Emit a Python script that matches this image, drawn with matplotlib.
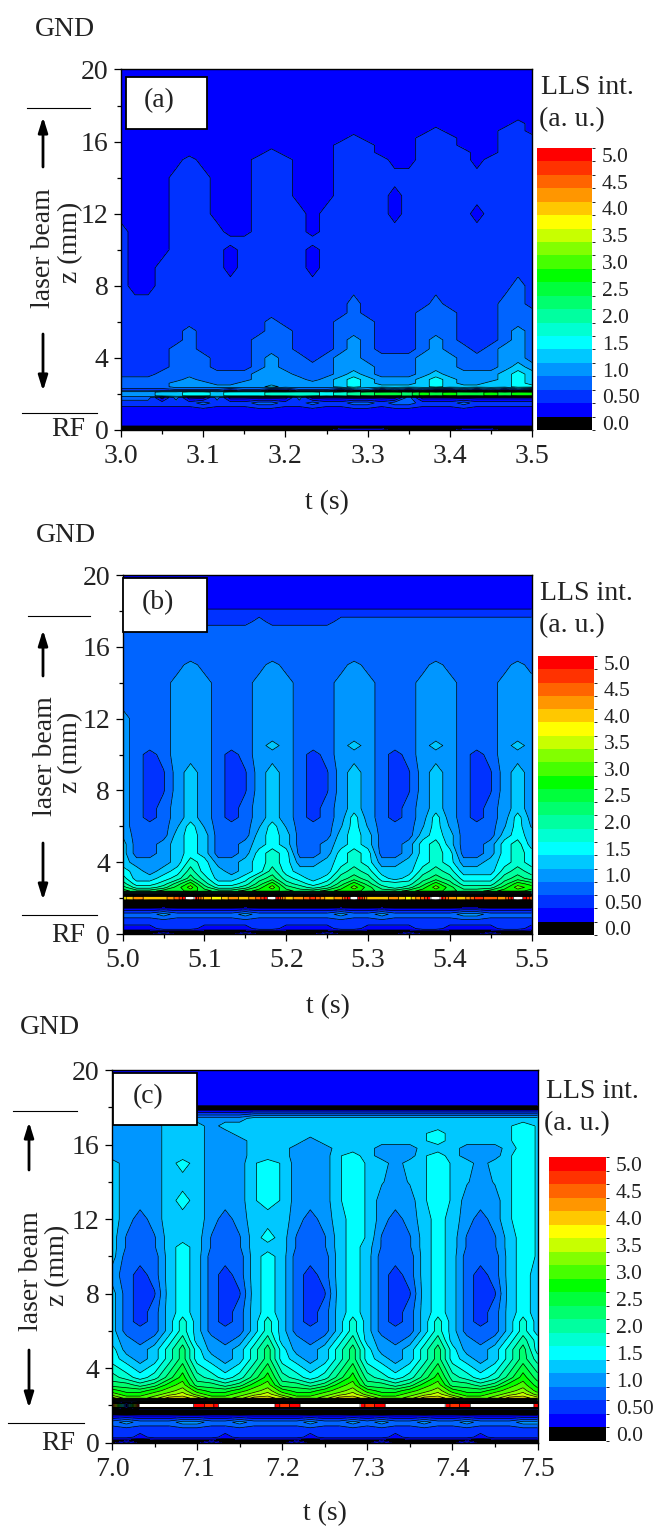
import numpy as np
import matplotlib
matplotlib.use('Agg')
import matplotlib.pyplot as plt
from matplotlib.cm import ScalarMappable
from matplotlib.colors import BoundaryNorm, ListedColormap
from matplotlib.patches import Rectangle

plt.rcParams['font.family'] = ['Liberation Serif', 'DejaVu Serif']

W, H = 657, 1528

# time offset inside each 0.5 s window, s
t_offset = [0, .017, .033, .05, .067, .083, .1, .117, .133, .15, .167, .183, .2, .217, .233, .25,
            .267, .283, .3, .317, .333, .35, .367, .383, .4, .417, .433, .45, .467, .483, .5]
t_start = [3.0, 5.0, 7.0]

z_mm = [20, 19, 18.3, 17.9, 17.4, 17, 16.6, 16.2, 15.8, 15.4, 15, 14, 13, 12, 11, 10.5, 10, 9, 8, 7,
        6.5, 6, 5.5, 5, 4.5, 4, 3.5, 3.1, 2.8, 2.6, 2.4, 2.2, 2.1, 2, 1.9, 1.8, 1.5, 1.1, .7, .3, .15, 0]

# LLS intensity, units of 0.25 a.u., rows follow z_mm
int_a = [
    [1,1,1,1,1,1, 1,1,1,1,1,1, 1,1,1,1,1,1, 1,1,1,1,1,1, 1,1,1,1,1,1, 1],
    [1,1,1,1,1,1, 1,1,1,1,1,1, 1,1,1,1,1,1, 1,1,1,1,1,1, 1,1,1,1,1,1, 1],
    [1,1,1,1,1,1, 1,1,1,1,1,1, 1,1,1,1,1,1, 1,1,1,1,1,1, 1,1,1,1,1,1, 1],
    [1,1,1,1,1,1, 1,1,1,1,1,1, 1,1,1,1,1,1, 1,1,1,1,1,1, 1,1,1,1,1,1, 1],
    [1,1,1,1,1,1, 1,1,1,1,1,1, 1,1,1,1,1,1, 1,1,1,1,1,1, 1,1,1,1,1,1, 1],
    [1,1,1,1,1,1, 1,1,1,1,1,1, 1,1,1,1,1,1, 1,1,1,1,1,1, 1,1,1,1,1,2, 1],
    [1,1,1,1,1,1, 1,1,1,1,1,1, 1,1,1,1,1,1, 1,1,1,1,1,2, 1,1,1,1,2,2, 1],
    [1,1,1,1,1,1, 1,1,1,1,1,1, 1,1,1,1,1,2, 1,1,1,1,2,2, 2,1,1,1,2,2, 2],
    [1,1,1,1,1,1, 1,1,1,1,1,1, 1,1,1,1,2,2, 2,1,1,1,2,2, 2,1,1,1,2,2, 2],
    [1,1,1,1,1,1, 1,1,1,1,1,2, 1,1,1,1,2,2, 2,1,1,1,2,2, 2,2,1,1,2,2, 2],
    [1,1,1,1,1,2, 1,1,1,1,2,2, 2,1,1,1,2,2, 2,2,1,1,2,2, 2,2,1,2,2,2, 2],
    [1,1,1,1,2,2, 2,1,1,1,2,2, 2,1,1,1,2,2, 2,2,2,2,2,2, 2,2,2,2,2,2, 2],
    [1,1,1,1,2,2, 2,1,1,1,2,2, 2,1,1,1,2,2, 2,2,1,2,2,2, 2,2,2,2,2,2, 2],
    [1,1,1,1,2,2, 2,1,1,1,2,2, 2,2,1,2,2,2, 2,2,1,2,2,2, 2,2,1,2,2,2, 2],
    [2,1,1,1,2,2, 2,2,1,1,2,2, 2,2,1,2,2,2, 2,2,2,2,2,2, 2,2,2,2,2,2, 2],
    [2,1,1,1,2,2, 2,2,2,2,2,2, 2,2,2,2,2,2, 2,2,2,2,2,2, 2,2,2,2,2,2, 2],
    [2,1,1,1,2,2, 2,2,1,2,2,2, 2,2,1,2,2,2, 2,2,2,2,2,2, 2,2,2,2,2,2, 2],
    [2,1,1,2,2,2, 2,2,1,2,2,2, 2,2,1,2,2,2, 2,2,2,2,2,2, 2,2,2,2,2,2, 2],
    [2,1,1,2,2,2, 2,2,2,2,2,2, 2,2,2,2,2,2, 2,2,2,2,2,2, 2,2,2,2,2,3, 2],
    [2,2,2,2,2,2, 2,2,2,2,2,2, 2,2,2,2,2,3, 2,2,2,2,2,3, 2,2,2,2,3,3, 2],
    [2,2,2,2,2,2, 2,2,2,2,2,2, 2,2,2,2,2,3, 2,2,2,2,3,3, 3,2,2,2,3,3, 3],
    [2,2,2,2,2,2, 2,2,2,2,2,3, 2,2,2,2,3,3, 3,2,2,2,3,3, 3,2,2,2,3,3, 3],
    [2,2,2,2,2,3, 2,2,2,2,2,3, 3,2,2,2,3,3, 3,2,2,2,3,3, 3,2,2,2,3,4, 3],
    [2,2,2,2,2,3, 2,2,2,2,3,3, 3,2,2,2,3,4, 3,2,2,2,3,4, 3,2,2,2,3,4, 3],
    [2,2,2,2,3,3, 2,2,2,2,3,3, 3,2,2,2,3,4, 3,2,2,2,3,4, 3,3,2,3,4,4, 3],
    [2,2,2,2,3,3, 3,2,2,2,3,4, 3,3,2,3,4,4, 3,3,3,3,4,4, 4,3,3,3,4,4, 3],
    [2,2,2,2,3,3, 3,2,2,2,3,4, 3,3,3,3,4,4, 4,3,3,3,4,4, 4,3,3,3,4,5, 4],
    [2,2,2,3,3,3, 3,3,3,3,4,4, 4,3,3,3,4,5, 4,3,3,3,4,5, 4,4,4,4,5,6, 5],
    [3,3,3,3,3,4, 3,3,3,3,4,4, 4,4,3,4,5,6, 5,4,4,4,5,6, 5,4,4,4,5,6, 5],
    [3,3,3,3,4,4, 4,3,3,4,4,4, 4,4,4,4,5,6, 5,4,4,4,5,6, 5,4,4,5,5,6, 5],
    [3,3,3,3,4,4, 4,4,4,4,4,5, 4,4,4,4,5,6, 5,5,5,5,5,6, 5,5,5,5,5,6, 6],
    [2,2,2,2,2,2, 2,2,1,2,2,0, 0,2,2,2,0,2, 3,0,2,0,2,0, 0,2,0,2,0,2, 0],
    [4,4,4,5,5,6, 6,5,6,6,6,7, 7,7,7,6,7,8, 9,10,10,9,11,10, 11,10,10,11,10,11, 11],
    [4,4,4,5,5,6, 6,5,6,6,6,7, 7,7,7,6,7,8, 9,10,10,9,11,10, 11,10,10,11,10,11, 11],
    [4,4,4,5,5,6, 6,5,6,6,6,7, 7,7,7,6,7,8, 9,10,10,9,11,10, 11,10,10,11,10,11, 11],
    [3,3,3,0,3,0, 0,3,0,0,0,0, 0,3,0,0,0,0, 0,0,0,3,0,0, 0,0,0,0,0,0, 0],
    [2,2,2,2,2,2, 3,2,2,2,3,3, 2,2,3,2,2,3, 3,2,3,3,2,2, 2,3,2,2,2,2, 2],
    [1,1,1,1,1,1, 1,1,1,1,1,1, 1,1,1,1,1,1, 1,1,1,1,1,1, 1,1,1,1,1,1, 1],
    [1,1,1,1,1,1, 1,1,1,1,1,1, 1,1,1,1,1,1, 1,1,1,1,1,1, 1,1,1,1,1,1, 1],
    [1,1,1,1,1,1, 1,1,1,1,1,1, 1,1,1,1,1,1, 1,1,1,1,1,1, 1,1,1,1,1,1, 1],
    [0,0,0,0,0,0, 0,0,0,0,0,0, 0,0,0,0,0,0, 0,0,0,0,0,0, 0,0,0,0,0,0, 0],
    [0,0,0,0,0,0, 0,0,0,0,0,0, 0,0,0,0,1,1, 1,1,0,0,0,0, 0,1,1,1,0,0, 0],
]

int_b = [
    [1,1,1,1,1,1, 1,1,1,1,1,1, 1,1,1,1,1,1, 1,1,1,1,1,1, 1,1,1,1,1,1, 1],
    [1,1,1,1,1,1, 1,1,1,1,1,1, 1,1,1,1,1,1, 1,1,1,1,1,1, 1,1,1,1,1,1, 1],
    [1,1,1,1,1,1, 1,1,1,1,1,1, 1,1,1,1,1,1, 1,1,1,1,1,1, 1,1,1,1,1,1, 1],
    [2,2,2,2,2,2, 2,2,2,2,2,2, 2,2,2,2,2,2, 2,2,2,2,2,2, 2,2,2,2,2,2, 2],
    [2,2,2,2,2,2, 2,2,2,2,3,2, 2,2,2,2,3,3, 3,3,3,3,3,3, 3,3,3,3,3,3, 3],
    [3,3,3,3,3,3, 3,3,3,3,3,3, 3,3,3,3,3,3, 3,3,3,3,3,3, 3,3,3,3,3,3, 3],
    [3,3,3,3,3,3, 3,3,3,3,3,3, 3,3,3,3,3,3, 3,3,3,3,3,3, 3,3,3,3,3,3, 3],
    [3,3,3,3,3,3, 3,3,3,3,3,3, 3,3,3,3,3,3, 3,3,3,3,3,3, 3,3,3,3,3,3, 3],
    [3,3,3,3,3,3, 3,3,3,3,3,3, 3,3,3,3,3,3, 3,3,3,3,3,3, 3,3,3,3,3,3, 3],
    [3,3,3,3,3,3, 3,3,3,3,3,3, 3,3,3,3,3,3, 3,3,3,3,3,3, 3,3,3,3,3,3, 3],
    [3,3,3,3,3,4, 3,3,3,3,3,4, 3,3,3,3,3,4, 3,3,3,3,3,4, 3,3,3,3,3,4, 3],
    [3,3,3,3,4,4, 4,3,3,3,4,4, 4,3,3,3,4,4, 4,3,3,3,4,4, 4,3,3,3,4,4, 4],
    [3,3,3,3,4,4, 4,3,3,3,4,4, 4,3,3,3,4,4, 4,3,3,3,4,4, 4,3,3,3,4,4, 4],
    [4,3,3,3,4,4, 4,3,3,3,4,4, 4,3,3,3,4,4, 4,3,3,3,4,4, 4,3,3,3,4,4, 4],
    [4,3,3,3,4,4, 4,3,3,3,4,4, 4,3,3,3,4,4, 4,3,3,3,4,4, 4,3,3,3,4,4, 4],
    [4,3,3,3,4,4, 4,3,3,3,4,5, 4,3,3,3,4,5, 4,3,3,3,4,5, 4,3,3,3,4,5, 4],
    [4,3,2,3,4,4, 4,3,2,3,4,4, 4,3,2,3,4,4, 4,3,2,3,4,4, 4,3,2,3,4,4, 4],
    [4,3,2,2.4,4,5, 4,3,2,2.4,4,5, 4,3,2,2.4,4,5, 4,3,2,2.4,4,5, 4,3,2,2.4,4,5, 4],
    [4,3,2,2.4,4,5, 4,3,2,2.4,4,5, 4,3,2,2.4,4,5, 4,3,2,2.4,4,5, 4,3,2,2.4,4,5, 4],
    [4,3,2,3,4,5, 4,3,2,3,4,5, 4,3,2,3,4,5, 4,3,2,3,4,5, 4,3,2,3,4,5, 4],
    [4,3,2,3,4,5, 4,3,2,3,4,5, 4,3,2,3,4,6, 4,3,2,3,4,6, 4,3,2,3,4,6, 4],
    [4,3,3,3,4.4,6, 4.4,3,3,3,4.4,6, 4.4,3,3,3,4.4,6, 4.4,3,3,3,4.4,6, 4.4,3,3,3,4.4,6, 4.4],
    [4.4,3,3,3,5,6, 5,3,3,3,5,6, 5,3,3,3,5,6, 5,3,3,3,5,6, 5,3,3,3,5,6, 5],
    [5,3,3,4,5,6, 5,3,3,4,5,6, 5,3,3,4,5,6, 5,3,3,4,6,7, 5,3,3,4,6,7, 5],
    [5,3,3,4,5,6, 5,3,3,4,6,7, 6,3,3,4,6,7, 6,3,3,4,6,7, 6,3,3,4,6,7, 6],
    [5,4,4,4,5,7, 6,4,4,5,6,7, 6,4,4,5,6,7, 6,4,4,5,6,7, 6,4,4,5,6,7, 6],
    [6,5,4,5,6,8, 6,5,4,5,6,8, 6,5,5,5,7,8, 7,5,5,5,7,8, 7,5,5,5,7,8, 7],
    [7,5,5,6,7,9, 7,5,5,6,8,9, 7,6,5,6,8,9, 8,6,5,6,8,9, 8,6,6,6,8,9, 8],
    [8,6,6,7,9,11, 8,6,6,7,9,11, 8,7,6,7,9,11, 9,7,7,7,9,11, 9,7,7,7,9,11, 10],
    [9,7,7,8,10,12, 9,7,7,8,10,12, 9,8,7,8,10,12, 10,8,7,8,10,12, 10,8,8,8,10,12, 11],
    [10,9,9,10,10,11, 10,9,9,10,11,11, 10,9,9,10,11,11, 10,9,9,10,11,11, 10,9,9,10,11,11, 10],
    [0,0,0,0,0,0, 0,0,0,0,0,0, 0,0,0,0,0,0, 0,0,0,0,0,0, 0,0,0,0,0,0, 0],
    [15,17,16,16,18,22, 16,15,17,16,18,22, 16,17,19,16,17,22, 16,16,17,15,18,22, 17,16,19,18,17,22, 18],
    [15,17,16,16,18,22, 16,15,17,16,18,22, 16,17,19,16,17,22, 16,16,17,15,18,22, 17,16,19,18,17,22, 18],
    [15,17,16,16,18,22, 16,15,17,16,18,22, 16,17,19,16,17,22, 16,16,17,15,18,22, 17,16,19,18,17,22, 18],
    [0,0,0,0,0,0, 0,0,0,0,0,0, 0,0,0,0,0,0, 0,0,0,0,0,0, 0,0,0,0,0,0, 0],
    [0,0,0,0,0,0, 0,0,0,0,0,0, 0,0,0,0,0,0, 0,0,0,0,0,0, 0,0,0,0,0,0, 0],
    [3,3,3,4,3,3, 3,3,3,4,3,3, 3,3,3,3,4,3, 3,4,3,3,3,3, 3,4,4,3,3,3, 3],
    [2,2,2,2,2,2, 2,2,2,2,2,2, 2,2,2,2,2,2, 2,2,2,2,2,2, 2,2,2,2,2,2, 2],
    [1,1,1,2,2,2, 1,1,1,1,2,2, 1,1,1,1,2,2, 1,1,1,1,2,2, 1,1,1,1,2,2, 1],
    [0,0,0,0,0,0, 0,0,0,0,0,0, 0,0,0,0,0,0, 0,0,0,0,0,0, 0,0,0,0,0,0, 0],
    [0,0,0,2,0,0, 0,0,0,2,0,0, 0,0,0,2,0,0, 0,0,0,2,0,0, 0,0,0,2,0,0, 0],
]

int_c = [
    [1,1,1,1,1,1, 1,1,1,1,1,1, 1,1,1,1,1,1, 1,1,1,1,1,1, 1,1,1,1,1,1, 1],
    [1,1,1,1,1,1, 1,1,1,1,1,1, 1,1,1,1,1,1, 1,1,1,1,1,1, 1,1,1,1,1,1, 1],
    [1,1,1,1,1,1, 1,1,1,1,1,1, 1,1,1,1,1,1, 1,1,1,1,1,1, 1,1,1,1,1,1, 1],
    [0,0,0,0,0,0, 0,0,0,0,0,0, 0,0,0,0,0,0, 0,0,0,0,0,0, 0,0,0,0,0,0, 0],
    [5,5,5,5,5,5, 4,4,4,4,5,5, 5,5,5,5,5,5, 5,5,5,5,5,5, 5,5,5,5,5,5, 5],
    [4,4,4,4,5,5, 5,4,5,5,5,5, 5,5,5,5,5,5, 5,5,5,5,5,5, 5,5,5,5,5.4,6, 5.4],
    [4,4,4,4,5,5, 5,4,4,5,5,5, 5,5,5,5,5,5, 5,5,5,5,5.4,6, 5,5,5,5,5.4,6, 5.4],
    [4,4,4,4,5,5, 5,4,4,4,5,5, 5,5,4,5,5,5, 5,5,5,5,5.4,6, 5,5,5,5,5.4,6, 5.4],
    [4,4,4,4,5,5, 5,4,4,4,5,5, 5,4,4,4,5,5, 5,4,4,4,5,5, 5,4,4,4,5,6, 5.4],
    [4,4,4,4,5,5, 5,4,4,4,5,5, 5,4,4,4,5.4,6, 5,4,4,4,5.4,6, 5,4,4,4,5.4,6, 5.4],
    [5,4,4,4,5,6, 5,4,4,4,5.4,6, 5.4,4,4,4,5.4,6, 5.4,5,4,5,5.4,6, 5.4,5,4,5,5.4,6, 5.4],
    [5,4,4,4,5,5, 5,4,4,4,5.4,6, 5.4,4,4,4,5.4,6, 5.4,4.6,4,4.6,5.4,6, 5.4,4.6,4,4.6,5.4,6, 5.4],
    [5,4,4,4,5,6, 5,4,4,4,5.4,6, 5.4,4,4,4,5.4,6, 5.4,4,4,4,5.4,6, 5.4,4,4,4,5.4,6, 5.4],
    [5,4,3,4,5,5, 5,4,3,4,5,5, 5,4,3,4,5,6, 5.4,4,3,4,5,6, 5,4,3,4,5.4,6, 5.4],
    [5,3.4,3,3.4,5,5, 5,3.4,3,3.4,5,6, 5,3.4,3,3.4,5,6, 5.4,3.4,3,3.4,5,6, 5,3.4,3,3.4,5,6, 5.4],
    [5,3.4,3,3.4,5,6, 5,3.4,3,3.4,5,5, 5,3.4,3,3.4,5,6, 5,3.4,3,3.4,5,6, 5,3.4,3,3.4,5,6, 5.4],
    [5,3,3,3,5,6, 5,3,3,3,5,6, 5,3,3,3,5,6, 5,3,3,3,5,6, 5,3,3,3,5,6, 5.4],
    [4,3,2,3,5,6, 5,3,2,3,5,6, 5,3,2,3,5,6, 5,3,2,3,5,6, 5,3,2,3,5,6, 5],
    [5,3,2,2.4,5,6, 5,3,2,2.4,5,6, 5,3,2,2.4,5,6, 5,3,2,2.4,5,6, 5,3,2,2.4,5,6, 5],
    [5,3,2,3,5,6, 5,3,2,3,5,6, 5,3,2,3,5,6, 5,3,2,3,5,6, 5,3,2,3,5,6, 5],
    [5,3,2,3,5,7, 5,3,2,3,5,7, 5,3,2,3,5,7, 5,3,2,3,5,7, 5,3,2,3,5,7, 5],
    [5,3,3,3,5,7, 5,3,3,3,5,7, 5,3,3,3,5,7, 5,3,3,3,5,7, 5,3,3,3,5,7, 5],
    [5,4,3,4,6,8, 5,4,3,4,6,8, 5,4,3,4,6,8, 5,4,3,4,6,8, 5,4,3,4,6,8, 6],
    [6,4,4,5,7,9, 6,4,4,5,7,9, 6,4,4,5,7,9, 6,4,4,5,7,9, 6,4,4,5,7,9, 6],
    [6,5,4,5,7,9, 6,5,4,5,7,9, 6,5,4,5,7,9, 6,5,4,5,7,9, 6,5,4,5,7,9, 7],
    [7,6,5,6,8,10, 7,6,5,6,8,10, 7,6,5,6,8,10, 7,6,5,6,8,10, 7,6,5,6,8,10, 8],
    [8,7,6,7,9,11, 8,7,6,7,9,11, 8,7,6,7,9,11, 8,7,6,7,9,11, 8,7,6,7,9,11, 9],
    [9,9,8,9,11,12, 9,9,8,9,11,12, 9,9,8,9,11,12, 9,9,8,9,11,12, 9,9,8,9,11,12, 10],
    [11,10,10,11,12,13, 11,10,10,11,12,13, 11,10,10,11,12,13, 11,10,10,11,12,13, 11,10,10,11,12,13, 11],
    [12,11,11,12,13,14, 12,11,11,12,13,14, 12,11,11,12,13,14, 12,11,11,12,13,14, 12,11,11,12,13,14, 12],
    [14,12,12,13,15,15, 14,12,12,13,15,15, 14,12,12,13,15,15, 14,12,12,13,15,15, 14,12,12,13,15,15, 14],
    [0,0,0,0,0,0, 0,0,0,0,0,0, 0,0,0,0,0,0, 0,0,0,0,0,0, 0,0,0,0,0,0, 0],
    [19,0,22,22,22,22, 20,19,22,22,22,22, 19,20,22,22,22,22, 19,20,22,22,22,22, 19,20,22,22,22,22, 20],
    [19,0,22,22,22,22, 20,19,22,22,22,22, 19,20,22,22,22,22, 19,20,22,22,22,22, 19,20,22,22,22,22, 20],
    [19,0,22,22,22,22, 20,19,22,22,22,22, 19,20,22,22,22,22, 19,20,22,22,22,22, 19,20,22,22,22,22, 20],
    [0,0,0,0,0,0, 0,0,0,0,0,0, 0,0,0,0,0,0, 0,0,0,0,0,0, 0,0,0,0,0,0, 0],
    [0,0,0,0,0,0, 0,0,0,0,0,0, 0,0,0,0,0,0, 0,0,0,0,0,0, 0,0,0,0,0,0, 0],
    [3,4,3,3,3,4, 4,3,3,4,3,3, 3,3,4,3,3,4, 3,4,3,3,4,3, 3,4,3,3,3,4, 4],
    [2,2,2,2,2,2, 2,2,2,2,2,2, 2,2,2,2,2,2, 2,2,2,2,2,2, 2,2,2,2,2,2, 2],
    [2,2,1,2,2,2, 2,2,1,2,2,2, 2,2,1,2,2,2, 2,2,1,2,2,2, 2,2,1,2,2,2, 2],
    [0,0,0,0,0,0, 0,0,0,0,0,0, 0,0,0,0,0,0, 0,0,0,0,0,0, 0,0,0,0,0,0, 0],
    [0,2,0,0,0,0, 0,2,0,0,0,0, 0,2,0,0,0,0, 0,2,0,0,0,0, 0,2,0,0,0,0, 0],
]

band_colors = ['#000000', '#0000ff', '#0032ff', '#0064ff', '#0096ff', '#00c8ff', '#00ffff',
               '#00ffd2', '#00ffa0', '#00ff6e', '#00ff3c', '#00ff00', '#46ff00', '#82ff00',
               '#c8ff00', '#ffff00', '#ffc800', '#ff9600', '#ff6400', '#ff3200', '#ff0000']
bar_ticks = [0, .5, 1, 1.5, 2, 2.5, 3, 3.5, 4, 4.5, 5]
bar_labels = ['0.0', '0.50', '1.0', '1.5', '2.0', '2.5', '3.0', '3.5', '4.0', '4.5', '5.0']
panel_names = ['(a)', '(b)', '(c)']

# bands are centred on multiples of 0.25
levels = np.arange(-0.125, 5.2, 0.25)
cmap = ListedColormap(band_colors)
cmap.set_over('white')

# pixel layout of each panel: axes, colorbar, label box
ax_px = [(121, 69.5, 532, 430), (122.7, 575, 531.5, 934), (112, 1070, 537.5, 1442.7)]
cb_px = [(537, 148, 592, 430), (538, 656, 594, 935), (549, 1157, 606, 1441)]
box_px = [(126, 77, 207, 129), (123, 578, 207, 632), (113, 1073, 197, 1125)]

fig = plt.figure(figsize=(W / 100, H / 100), dpi=100)


def add_ax(l, t, r, b):
    return fig.add_axes([l / W, 1 - b / H, (r - l) / W, (b - t) / H])


z = np.array(z_mm)[::-1]
for i, vals in enumerate([int_a, int_b, int_c]):
    ax = add_ax(*ax_px[i])
    t = t_start[i] + np.array(t_offset)
    v = np.array(vals, dtype=float)[::-1] * 0.25
    ax.contourf(t, z, v, levels=levels, cmap=cmap, norm=BoundaryNorm(levels, 21), extend='max')
    ax.contour(t, z, v, levels=levels, colors='k', linewidths=0.5)
    ax.set_xlim(t_start[i], t_start[i] + 0.5)
    ax.set_ylim(0, 20)
    ax.set_xticks(t_start[i] + np.array([0, .1, .2, .3, .4, .5]))
    ax.set_xticks(t_start[i] + np.array([.05, .15, .25, .35, .45]), minor=True)
    ax.set_xticklabels(['%.1f' % (t_start[i] + d) for d in [0, .1, .2, .3, .4, .5]])
    ax.set_yticks([0, 4, 8, 12, 16, 20])
    ax.set_yticks([2, 6, 10, 14, 18], minor=True)
    ax.tick_params(which='major', length=5, width=0.9, labelsize=20, pad=4, labelcolor='#222222')
    ax.tick_params(axis='x', which='major', pad=5)
    ax.tick_params(which='minor', length=3, width=0.9)
    for s in ax.spines.values():
        s.set_linewidth(1.0)

    cax = add_ax(*cb_px[i])
    # own norm for each bar, a shared one resets the other bars' tick labels
    cb = fig.colorbar(ScalarMappable(norm=BoundaryNorm(levels, 21), cmap=cmap), cax=cax, spacing='proportional')
    cb.set_ticks(bar_ticks, labels=bar_labels)
    cb.ax.tick_params(length=0, labelsize=15.5, pad=7, labelcolor='#222222')
    cb.outline.set_visible(False)

# overlay in pixel coordinates for the annotations
ov = fig.add_axes([0, 0, 1, 1], facecolor='none')
ov.set_xlim(0, W)
ov.set_ylim(H, 0)
ov.axis('off')


def label(x, y, s, ha='center', rot=0):
    if rot:
        x += 1
    else:
        y += 2
    ov.text(x, y, s, fontsize=20, ha=ha, va='center', rotation=rot, color='#222222')


for i in range(3):
    l, t, r, b = box_px[i]
    ov.add_patch(Rectangle((l, t), r - l, b - t, fc='white', ec='k', lw=1.3))
    label((l + r) / 2 - 7, (t + b) / 2 - 4, panel_names[i])

gnd_xy = [(65, 28), (66, 534), (50, 1026)]
beam_xy = [(42, 248), (44, 756), (30, 1271)]
zlab_xy = [(70, 242), (70, 752), (57, 1265)]
rf_xy = [(85, 428), (85, 934), (75, 1441)]
tlab_xy = [(327, 501), (328, 1005), (325, 1512)]
top_line = [(27, 90, 108), (28, 90, 616), (13, 77, 1111)]
low_line = [(22, 97, 413), (22, 97, 915), (8, 84, 1423)]
arrow_up = [(43, 167, 117), (43, 676, 630), (29, 1170, 1122)]
arrow_dn = [(43, 334, 391), (43, 843, 900), (29, 1350, 1408)]
lls_xy = [(541, 86, 539, 118), (540, 591, 539, 624), (546, 1090, 544, 1122)]

for i in range(3):
    label(*gnd_xy[i], 'GND')
    label(*beam_xy[i], 'laser beam', rot=90)
    label(*zlab_xy[i], 'z (mm)', rot=90)
    label(*rf_xy[i], 'RF', ha='right')
    label(*tlab_xy[i], 't (s)')
    for x0, x1, y in (top_line[i], low_line[i]):
        ov.plot([x0, x1], [y, y], color='k', lw=0.8)
    for x, y0, y1 in (arrow_up[i], arrow_dn[i]):
        ov.annotate('', xy=(x, y1), xytext=(x, y0),
                    arrowprops=dict(arrowstyle='-|>,head_length=0.9,head_width=0.28', color='k', lw=2,
                                    shrinkA=0, shrinkB=0))
    label(lls_xy[i][0], lls_xy[i][1], 'LLS int.', ha='left')
    label(lls_xy[i][2], lls_xy[i][3], '(a. u.)', ha='left')

fig.savefig('out.png', dpi=100)
